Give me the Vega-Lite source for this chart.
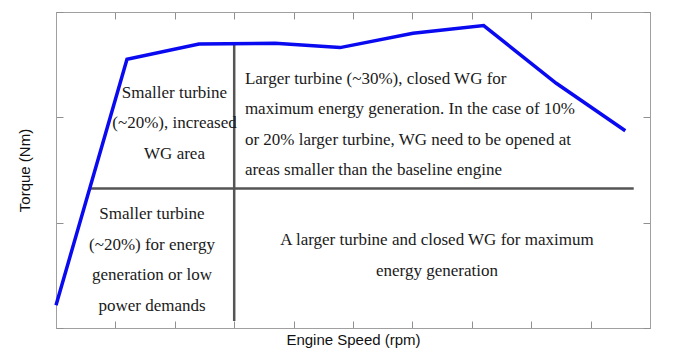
{
  "$schema": "https://vega.github.io/schema/vega-lite/v6.json",
  "width": 594,
  "height": 316,
  "autosize": "none",
  "padding": {"left": 56, "top": 12, "right": 48, "bottom": 27},
  "background": "white",
  "config": {
    "view": {"stroke": "#a0a0a0", "strokeWidth": 1},
    "axis": {"grid": false, "labels": false, "domainColor": "#a0a0a0", "tickColor": "#909090", "tickSize": -7, "titleFont": "Liberation Sans", "titleFontWeight": "normal", "titleFontSize": 15, "titleColor": "#111"}
  },
  "datasets": {
    "torque": [
      {"speed": 0, "torque": 0.216},
      {"speed": 1.195, "torque": 2.551},
      {"speed": 2.407, "torque": 2.697},
      {"speed": 3.687, "torque": 2.703},
      {"speed": 4.781, "torque": 2.662},
      {"speed": 6.01, "torque": 2.798},
      {"speed": 7.2, "torque": 2.871},
      {"speed": 8.422, "torque": 2.323},
      {"speed": 9.584, "torque": 1.873}
    ],
    "dividers": [
      {"line": "v", "speed": 3.0, "torque": 2.70},
      {"line": "v", "speed": 3.0, "torque": 0.067},
      {"line": "h", "speed": 0.572, "torque": 1.325},
      {"line": "h", "speed": 9.726, "torque": 1.325}
    ],
    "labels": [
      {"block": "a", "speed": 1.995, "torque": 2.234, "text": ["Smaller turbine", "(~20%), increased", "WG area"]},
      {"block": "c", "speed": 1.616, "torque": 1.081, "text": ["Smaller turbine", "(~20%) for energy", "generation or low", "power demands"]},
      {"block": "d", "speed": 6.414, "torque": 0.834, "text": ["A larger turbine and closed WG for maximum", "energy generation"]}
    ],
    "labelsLeft": [
      {"block": "b", "speed": 3.18, "torque": 2.364, "text": ["Larger turbine (~30%), closed WG for", "maximum energy generation. In the case of 10%", "or 20% larger turbine, WG need to be opened at", "areas smaller than the baseline engine"]}
    ]
  },
  "layer": [
    {
      "data": {"name": "dividers"},
      "mark": {"type": "line", "color": "#555555", "strokeWidth": 2.5},
      "encoding": {
        "x": {"field": "speed", "type": "quantitative", "scale": {"domain": [0, 10], "nice": false}, "axis": {"orient": "bottom", "title": "Engine Speed (rpm)", "values": [0,1,2,3,4,5,6,7,8,9,10], "titlePadding": 4}},
        "y": {"field": "torque", "type": "quantitative", "scale": {"domain": [0, 3], "nice": false}, "axis": {"orient": "left", "title": "Torque (Nm)", "values": [0,1,2,3], "titlePadding": 23}},
        "detail": {"field": "line"}
      }
    },
    {
      "data": {"name": "torque"},
      "mark": {"type": "line", "color": "#0a0af0", "strokeWidth": 3.5},
      "encoding": {
        "x": {"field": "speed", "type": "quantitative", "axis": {"orient": "top", "title": "", "values": [0,1,2,3,4,5,6,7,8,9,10]}},
        "y": {"field": "torque", "type": "quantitative", "axis": {"orient": "right", "title": "", "values": [0,1,2,3]}}
      }
    },
    {
      "data": {"name": "labels"},
      "mark": {"type": "text", "font": "Liberation Serif", "fontSize": 17, "lineHeight": 30.5, "color": "#1a1a1a", "align": "center", "baseline": "middle"},
      "encoding": {
        "x": {"field": "speed", "type": "quantitative", "axis": null},
        "y": {"field": "torque", "type": "quantitative", "axis": null},
        "text": {"field": "text"}
      }
    },
    {
      "data": {"name": "labelsLeft"},
      "mark": {"type": "text", "font": "Liberation Serif", "fontSize": 17, "lineHeight": 30.5, "color": "#1a1a1a", "align": "left", "baseline": "middle"},
      "encoding": {
        "x": {"field": "speed", "type": "quantitative", "axis": null},
        "y": {"field": "torque", "type": "quantitative", "axis": null},
        "text": {"field": "text"}
      }
    }
  ],
  "resolve": {"axis": {"x": "independent", "y": "independent"}}
}
